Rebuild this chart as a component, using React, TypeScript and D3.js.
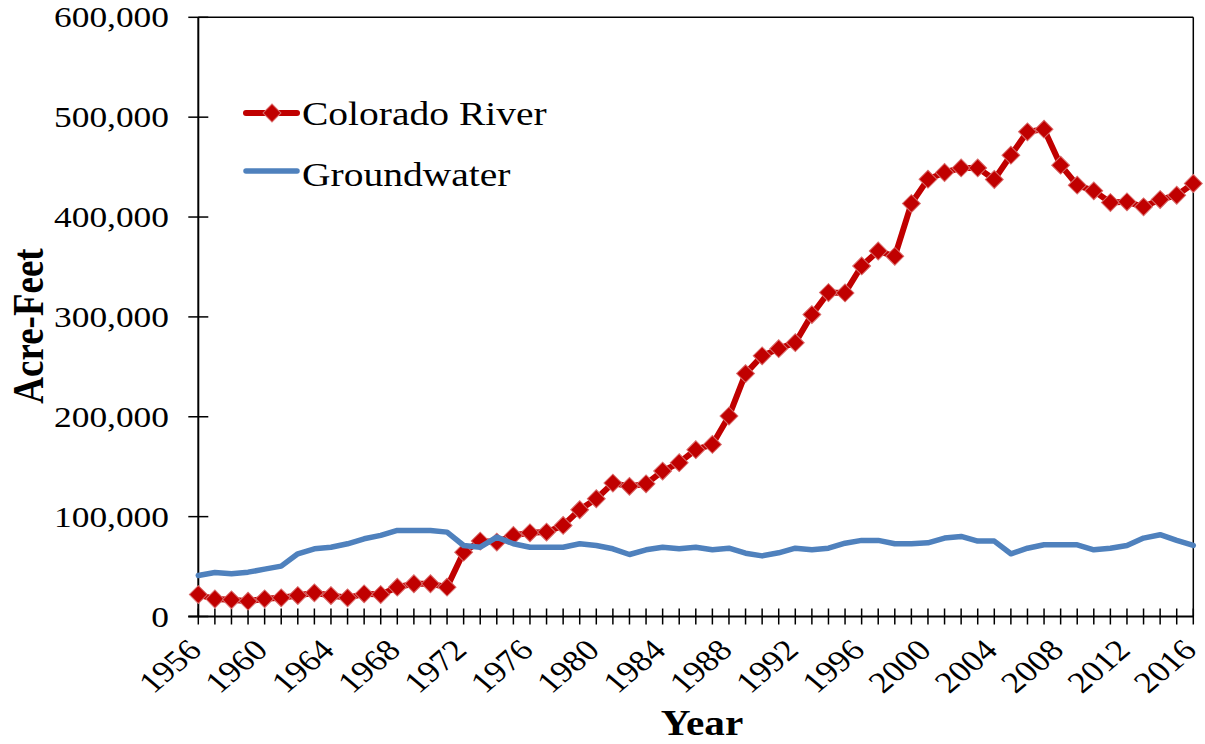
import React, { useEffect, useRef } from "react";
import * as d3 from "d3";

const years = d3.range(1956, 2017);
const yTicks = [0, 100000, 200000, 300000, 400000, 500000, 600000];
const xLabelYears = d3.range(1956, 2017, 4);

// acre-feet, one value per year 1956..2016
const coloradoRiver = [
  22000, 17500, 16700, 15300, 17700, 18700, 21000, 23700, 21000, 18700,
  22700, 22000, 29400, 32800, 32800, 29400, 64400, 75500, 74500, 81200,
  83800, 84500, 91200, 106900, 117900, 133600, 130300, 132900, 145600, 154000,
  167000, 172300, 200700, 243200, 261000, 268200, 274200, 302300, 324400, 324000,
  351000, 366000, 360700, 413500, 437900, 444600, 449200, 449200, 437600, 461900,
  485300, 488000, 451900, 431900, 426200, 414500, 415200, 410200, 417500, 421800,
  433600,
];
const groundwater = [
  41000, 44000, 42800, 44400, 47400, 50400, 62800, 67800, 69400, 72800,
  77800, 81200, 86200, 86200, 86200, 84500, 71100, 69400, 79500, 72800,
  69400, 69400, 69400, 72800, 71100, 67800, 62100, 66800, 69400, 67800,
  69400, 66800, 68400, 63400, 60700, 63800, 68400, 66800, 68400, 73400,
  76200, 76200, 72800, 72800, 73800, 78500, 80200, 75500, 75500, 62800,
  68400, 71800, 71800, 71800, 66800, 68400, 71100, 78500, 81900, 76200,
  71100,
];

const RED = "#c00000";
const BLUE = "#4f81bd";
const FONT = "'Liberation Serif', 'Times New Roman', serif";
const SX = 1.18; // horizontal stretch of the original picture

const App: React.FC = () => {
  const ref = useRef<SVGSVGElement | null>(null);

  useEffect(() => {
    if (!ref.current) return;
    const svg = d3.select(ref.current);
    svg.selectAll("*").remove();

    const left = 198.3;
    const right = 1193.3;
    const top = 17.3;
    const bottom = 616.5;

    const x = d3.scaleLinear().domain([1956, 2016]).range([left, right]);
    const y = d3.scaleLinear().domain([0, 600000]).range([bottom, top]);

    // frame
    svg.append("line").attr("x1", left).attr("x2", right).attr("y1", top).attr("y2", top)
      .attr("stroke", "#000").attr("stroke-width", 1.5);
    svg.append("line").attr("x1", right).attr("x2", right).attr("y1", top).attr("y2", bottom)
      .attr("stroke", "#000").attr("stroke-width", 1.5);

    // y axis
    svg.append("line").attr("x1", left).attr("x2", left).attr("y1", top).attr("y2", bottom)
      .attr("stroke", "#000").attr("stroke-width", 2);
    svg.append("g").selectAll("line").data(yTicks).join("line")
      .attr("x1", left - 10).attr("x2", left + 10)
      .attr("y1", (d) => y(d)).attr("y2", (d) => y(d))
      .attr("stroke", "#000").attr("stroke-width", 1.5);
    svg.append("g").selectAll("text").data(yTicks).join("text")
      .attr("transform", (d) => `translate(169,${y(d) + 10}) scale(${SX},1)`)
      .attr("text-anchor", "end")
      .attr("font-family", FONT).attr("font-size", 30)
      .text((d) => d3.format(",")(d));

    // x axis
    svg.append("line").attr("x1", left - 10).attr("x2", right).attr("y1", bottom).attr("y2", bottom)
      .attr("stroke", "#000").attr("stroke-width", 2);
    svg.append("g").selectAll("line").data(years).join("line")
      .attr("x1", (d) => x(d)).attr("x2", (d) => x(d))
      .attr("y1", bottom - 8).attr("y2", bottom + 8)
      .attr("stroke", "#000").attr("stroke-width", 1.5);
    svg.append("g").selectAll("text").data(xLabelYears).join("text")
      .attr("transform", (d) => `translate(${x(d) + 5},652) scale(${SX},1) rotate(-45)`)
      .attr("text-anchor", "end")
      .attr("font-family", FONT).attr("font-size", 30)
      .text((d) => d);

    // titles
    svg.append("text")
      .attr("transform", `translate(43,326) scale(${SX},1) rotate(-90)`)
      .attr("text-anchor", "middle")
      .attr("font-family", FONT).attr("font-weight", "bold").attr("font-size", 37)
      .text("Acre-Feet");
    svg.append("text")
      .attr("transform", `translate(702,735) scale(${SX},1)`)
      .attr("text-anchor", "middle")
      .attr("font-family", FONT).attr("font-weight", "bold").attr("font-size", 35)
      .text("Year");

    const line = d3.line<number>()
      .x((_, i) => x(years[i]))
      .y((d) => y(d));

    const diamond = d3.symbol().type(d3.symbolSquare).size(160);

    // Colorado River
    svg.append("path").datum(coloradoRiver)
      .attr("d", line).attr("fill", "none")
      .attr("stroke", RED).attr("stroke-width", 6)
      .attr("stroke-linejoin", "round").attr("stroke-linecap", "round");
    svg.append("g").selectAll("path").data(coloradoRiver).join("path")
      .attr("d", diamond)
      .attr("transform", (d, i) => `translate(${x(years[i])},${y(d)}) rotate(45)`)
      .attr("fill", RED).attr("stroke", "#d96c6c").attr("stroke-width", 1);

    // Groundwater
    svg.append("path").datum(groundwater)
      .attr("d", line).attr("fill", "none")
      .attr("stroke", BLUE).attr("stroke-width", 5.5)
      .attr("stroke-linejoin", "round").attr("stroke-linecap", "round");

    // legend
    const legend = svg.append("g");
    legend.append("line").attr("x1", 246).attr("x2", 297).attr("y1", 113).attr("y2", 113)
      .attr("stroke", RED).attr("stroke-width", 6).attr("stroke-linecap", "round");
    legend.append("path").attr("d", diamond)
      .attr("transform", "translate(272,113) rotate(45)")
      .attr("fill", RED).attr("stroke", "#d96c6c").attr("stroke-width", 1);
    legend.append("text")
      .attr("transform", `translate(302,125) scale(${SX},1)`)
      .attr("font-family", FONT).attr("font-size", 33.5)
      .text("Colorado River");
    legend.append("line").attr("x1", 246).attr("x2", 297).attr("y1", 171).attr("y2", 171)
      .attr("stroke", BLUE).attr("stroke-width", 5.5).attr("stroke-linecap", "round");
    legend.append("text")
      .attr("transform", `translate(302,186) scale(${SX},1)`)
      .attr("font-family", FONT).attr("font-size", 33.5)
      .text("Groundwater");
  }, []);

  return (
    <svg
      ref={ref}
      width={1205}
      height={744}
      style={{ position: "absolute", left: 0, top: 0, background: "#fff" }}
    />
  );
};

export default App;
